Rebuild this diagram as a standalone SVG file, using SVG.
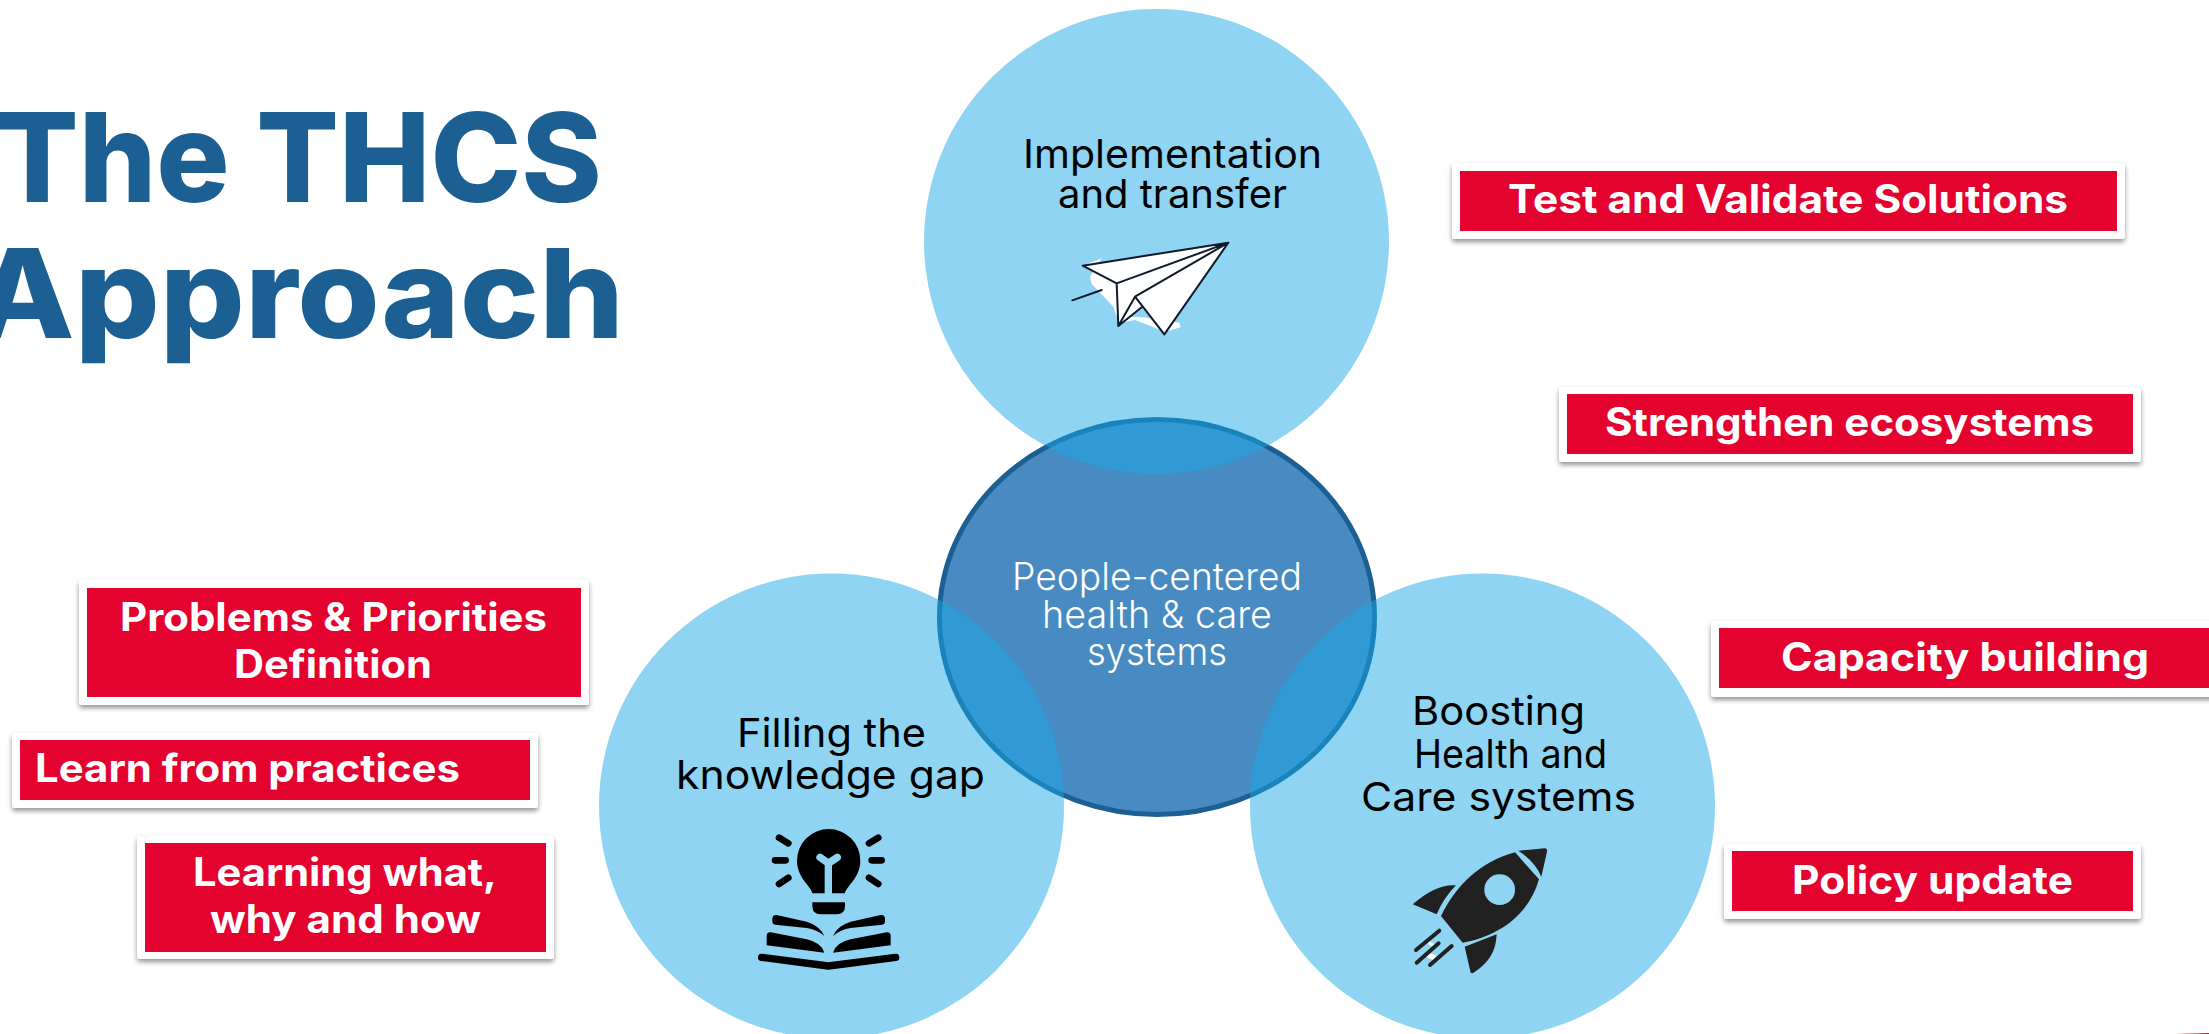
<svg xmlns="http://www.w3.org/2000/svg" width="2209" height="1034" viewBox="0 0 2209 1034">
<style>
text{font-family:Inter,"Noto Sans","Liberation Sans",sans-serif;text-anchor:start}
.title{font-size:124px;font-weight:800;fill:#1c6093}
.lbl{font-size:39px;font-weight:700;fill:#fff}
.c{font-size:40px;font-weight:400;fill:#000}
.m{font-size:38px;font-weight:300;fill:#fff}
.card{fill:#fff;filter:url(#sh)}
.red{fill:#e4032e}
.circle{fill:#1baae7;fill-opacity:.49}
.ink{fill:#000}
.ray{stroke:#000;stroke-width:20;stroke-linecap:round;fill:none}
.roc{fill:#212121}
.fl{stroke:#212121;stroke-width:12;stroke-linecap:round;fill:none}
.pl{fill:none;stroke:#0d1a2b;stroke-width:6;stroke-linejoin:round;stroke-linecap:round}
</style>
<defs>
<filter id="sh" x="-5%" y="-20%" width="110%" height="145%"><feDropShadow dx="0" dy="3" stdDeviation="2.5" flood-color="#000" flood-opacity=".42"/></filter>
<linearGradient id="edge" x1="0" x2="1" y1="0" y2="0"><stop offset="0" stop-color="#e4032e" stop-opacity="0"/><stop offset="1" stop-color="#e4032e"/></linearGradient>
</defs>
<rect width="2209" height="1034" fill="#fff"/>
<g id="connectors"/>
<g id="title">
<text class="title" x="-4" y="202" textLength="606" lengthAdjust="spacingAndGlyphs">The THCS</text>
<text class="title" x="-28" y="338" textLength="652" lengthAdjust="spacingAndGlyphs">Approach</text>
</g>
<g id="node-center-shape"><ellipse cx="1157" cy="617" rx="217.5" ry="197.5" fill="#478bc2" stroke="#1c5f92" stroke-width="5"/></g>
<g id="node-implementation">
<circle class="circle" cx="1156.500" cy="241.500" r="232.500"/>
<text class="c" x="1023" y="168" textLength="299" lengthAdjust="spacingAndGlyphs">Implementation</text>
<text class="c" x="1058" y="208" textLength="229" lengthAdjust="spacingAndGlyphs">and transfer</text>
<g transform="translate(900 100) scale(.33333)">
<path fill="#fff" d="M605 475L570 530L575 552L640 620L650 650L730 652L838 668L842 682L795 695L705 660L655 670L650 550L548 497Z"/>
<path fill="#fff" d="M548 497L985 428L793 703L725 622L655 678L650 550Z"/>
<path class="pl" d="M548 497L985 428L793 703L705 590L655 678L650 550ZM650 550L985 428M705 590L985 428M655 678L725 622M517 601L605 570"/>
</g>
</g>
<g id="node-filling">
<circle class="circle" cx="831.500" cy="806" r="232.500"/>
<text class="c" x="737" y="747" textLength="189" lengthAdjust="spacingAndGlyphs">Filling the</text>
<text class="c" x="676" y="789" textLength="309" lengthAdjust="spacingAndGlyphs">knowledge gap</text>
<g transform="translate(700 800) scale(.33333)">
<path class="ink" d="M337 280C337 262 291 235 291 182A95 95 0 0 1 481 182C481 235 435 262 435 280ZM337 307H435V318Q435 343 410 343H362Q337 343 337 318Z"/>
<path d="M385 280V190L360 172M385 190L412 172" fill="none" stroke="#8fd5f3" stroke-width="22" stroke-linecap="round" stroke-linejoin="round"/>
<path class="ray" d="M237 113L265 130M225 181H257M237 252L265 233M535 113L507 130M545 181H515M535 252L507 233"/>
<path class="ink" d="M217 355Q218 344 230 345L320 365Q362 378 373 408Q350 388 320 384L225 374Q217 372 217 365ZM555 355Q554 344 542 345L452 365Q410 378 399 408Q422 388 452 384L547 374Q555 372 555 365ZM200 405Q202 396 212 397L320 418Q365 428 373 458L200 436ZM572 405Q570 396 560 397L452 418Q407 428 399 458L572 436Z"/>
<path d="M185 472L385 498L587 472" fill="none" stroke="#000" stroke-width="22" stroke-linecap="round" stroke-linejoin="round"/>
</g>
</g>
<g id="node-boosting">
<circle class="circle" cx="1482.500" cy="806" r="232.500"/>
<text class="c" x="1412" y="725" textLength="173" lengthAdjust="spacingAndGlyphs">Boosting</text>
<text class="c" x="1414" y="768" textLength="193" lengthAdjust="spacingAndGlyphs">Health and</text>
<text class="c" x="1361" y="811" textLength="275" lengthAdjust="spacingAndGlyphs">Care systems</text>
<g transform="translate(1380 820) scale(.33333)">
<path class="roc" d="M405 97C300 125 225 200 183 288L248 368C350 350 445 290 477 178Z"/>
<path class="roc" d="M415 92L494 85Q503 85 501 95L484 170Q465 125 415 92ZM228 196Q170 190 98 253L170 283Q190 235 228 196ZM350 343L254 380L272 458Q278 462 285 455Q348 415 350 343Z"/>
<circle cx="359" cy="209" r="46" fill="#8fd5f3"/>
<path d="M145 362L165 374L157 382L145 372ZM148 398L170 407L160 420L140 412Z" fill="#fff"/>
<path class="fl" d="M108 390L178 332M110 428L176 370M150 435L215 378"/>
</g>
</g>
<g id="node-center-text">
<text class="m" x="1012" y="590" textLength="290" lengthAdjust="spacingAndGlyphs">People-centered</text>
<text class="m" x="1042" y="628" textLength="230" lengthAdjust="spacingAndGlyphs">health &amp; care</text>
<text class="m" x="1087" y="665" textLength="140" lengthAdjust="spacingAndGlyphs">systems</text>
</g>
<g id="node-problems">
<rect class="card" x="79" y="580" width="510" height="125" rx="3"/><rect class="red" x="87" y="588" width="494" height="109"/>
<text class="lbl" x="120" y="631" textLength="427" lengthAdjust="spacingAndGlyphs">Problems &amp; Priorities</text>
<text class="lbl" x="234" y="678" textLength="198" lengthAdjust="spacingAndGlyphs">Definition</text>
</g>
<g id="node-learn">
<rect class="card" x="12" y="733" width="526" height="75" rx="3"/><rect class="red" x="20" y="740" width="510" height="60"/>
<text class="lbl" x="35" y="782" textLength="425" lengthAdjust="spacingAndGlyphs">Learn from practices</text>
</g>
<g id="node-learning">
<rect class="card" x="137" y="836" width="417" height="123" rx="3"/><rect class="red" x="145" y="843" width="401" height="109"/>
<text class="lbl" x="193" y="886" textLength="304" lengthAdjust="spacingAndGlyphs">Learning what,</text>
<text class="lbl" x="210" y="933" textLength="271" lengthAdjust="spacingAndGlyphs">why and how</text>
</g>
<g id="node-test">
<rect class="card" x="1452" y="163" width="673" height="76" rx="3"/><rect class="red" x="1460" y="171" width="657" height="60"/>
<text class="lbl" x="1508" y="213" textLength="560" lengthAdjust="spacingAndGlyphs">Test and Validate Solutions</text>
</g>
<g id="node-strengthen">
<rect class="card" x="1559" y="387" width="582" height="75" rx="3"/><rect class="red" x="1567" y="394" width="566" height="60"/>
<text class="lbl" x="1605" y="436" textLength="489" lengthAdjust="spacingAndGlyphs">Strengthen ecosystems</text>
</g>
<g id="node-capacity">
<rect class="card" x="1711" y="621" width="520" height="76" rx="3"/><rect class="red" x="1719" y="628" width="500" height="60"/>
<text class="lbl" x="1781" y="671" textLength="368" lengthAdjust="spacingAndGlyphs">Capacity building</text>
</g>
<g id="node-policy">
<rect class="card" x="1724" y="844" width="417" height="75" rx="3"/><rect class="red" x="1732" y="851" width="401" height="60"/>
<text class="lbl" x="1792" y="894" textLength="281" lengthAdjust="spacingAndGlyphs">Policy update</text>
</g>
<rect x="2175" y="1033" width="34" height="1" fill="url(#edge)"/>
</svg>
